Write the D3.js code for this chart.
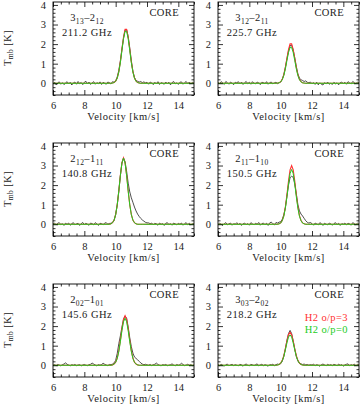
<!DOCTYPE html>
<html>
<head>
<meta charset="utf-8">
<script src="https://cdn.jsdelivr.net/npm/d3@7"></script>
<style>
body { margin: 0; background: #fff; }
svg { display: block; font-family: "Liberation Serif", "Times New Roman", serif; }
</style>
</head>
<body>
<svg id="chart" width="360" height="404"></svg>
<script>
// transitions: [J_up, Ka Kc up, J_low, Ka Kc low]
const transitions = [
	['3', '13', '2', '12'],
	['3', '12', '2', '11'],
	['2', '12', '1', '11'],
	['2', '11', '1', '10'],
	['2', '02', '1', '01'],
	['3', '03', '2', '02'],
]
const freqs = ['211.2 GHz', '225.7 GHz', '140.8 GHz', '150.5 GHz', '145.6 GHz', '218.2 GHz']

// observed channels, 6.0 .. 15.0 km/s every 0.1
const obsV = d3.range(91).map(i => 6 + i * 0.1)
const obs1 = [-0.04, 0.06, -0.08, 0.02, 0.07, -0.05, 0.03, -0.07, 0.01, 0.08, -0.03, 0.05, -0.09, 0.02, 0.06, -0.05, 0.09, -0.02, 0.04, -0.07, 0.05, 0.10, -0.03, 0.06, -0.06, 0.02, 0.08, -0.05, 0.03, -0.02, 0.07, -0.06, 0.05, 0.00, -0.05, 0.06, 0.03, -0.04, 0.08, 0.05,
	0.12, 0.32, 0.65, 1.15, 1.75, 2.30, 2.72, 2.74, 2.38, 1.80, 1.15, 0.62, 0.30, 0.14, 0.10, 0.06, 0.09, 0.03, 0.07, 0.02, 0.05,
	-0.05, 0.06, 0.02, -0.07, 0.05, -0.03, 0.08, -0.06, 0.03, 0.00, -0.05, 0.06, -0.02, 0.05, -0.08, 0.03, 0.09, -0.03, 0.02, -0.06, 0.05, 0.07, -0.05, 0.03, 0.09, -0.02, 0.06, -0.04, 0.05, 0.00]
const obs2 = [0.05, -0.03, 0.08, 0.02, -0.06, 0.09, 0.03, -0.05, 0.06, 0.00, -0.07, 0.05, 0.02, 0.08, -0.03, 0.06, -0.06, 0.03, 0.09, -0.02, 0.05, -0.05, 0.08, 0.00, -0.03, 0.06, 0.02, -0.07, 0.05, 0.03, -0.02, 0.08, -0.05, 0.03, 0.06, -0.03, 0.02, 0.05, -0.02, 0.03,
	0.06, 0.20, 0.45, 0.82, 1.25, 1.65, 1.92, 1.94, 1.70, 1.30, 0.85, 0.48, 0.26, 0.18, 0.14, 0.09, 0.12, 0.05, 0.03, 0.06, -0.02,
	0.03, -0.06, 0.05, -0.08, 0.02, -0.05, -0.09, 0.03, -0.03, 0.06, -0.05, 0.00, -0.06, 0.05, -0.03, 0.02, -0.08, 0.03, 0.06, -0.02, 0.05, -0.05, 0.08, 0.02, -0.03, 0.09, 0.03, -0.02, 0.06, 0.02]
const obs3 = [0.02, 0.06, -0.03, 0.05, 0.08, -0.02, 0.03, -0.06, 0.05, 0.00, 0.06, -0.05, 0.03, 0.08, -0.03, 0.02, 0.05, -0.06, 0.03, 0.09, -0.02, 0.05, 0.00, -0.05, 0.06, 0.03, -0.03, 0.08, 0.02, -0.06, 0.05, 0.03, -0.02, 0.06, 0.08, 0.00, 0.04, 0.05, 0.09, 0.20,
	0.50, 0.98, 1.68, 2.48, 3.12, 3.38, 3.20, 2.70, 2.10, 1.65, 1.35, 1.12, 0.88, 0.68, 0.52, 0.40, 0.30, 0.22, 0.16, 0.10, 0.07,
	0.07, 0.03, 0.06, -0.03, 0.05, 0.02, -0.05, 0.06, 0.00, 0.03, -0.06, 0.05, 0.08, -0.02, 0.03, -0.05, 0.06, 0.02, -0.03, 0.05, 0.00, 0.06, -0.05, 0.03, 0.08, -0.02, 0.05, -0.03, 0.02, 0.03]
const obs4 = [-0.02, 0.05, 0.00, -0.06, 0.03, 0.08, -0.03, 0.02, 0.06, -0.05, 0.03, 0.00, 0.08, -0.03, 0.05, -0.06, 0.02, 0.06, -0.02, 0.03, -0.05, 0.08, 0.02, -0.03, 0.05, 0.00, 0.09, -0.05, 0.03, 0.06, -0.02, 0.05, -0.06, 0.07, 0.11, 0.03, -0.03, 0.09, 0.06, 0.11,
	0.12, 0.25, 0.48, 0.85, 1.42, 2.00, 2.38, 2.45, 2.40, 2.05, 1.55, 1.00, 0.68, 0.52, 0.42, 0.30, 0.18, 0.10, 0.06, 0.09, 0.03,
	-0.05, 0.06, 0.02, -0.03, 0.08, 0.03, -0.06, 0.05, 0.00, -0.03, 0.06, 0.02, -0.05, 0.03, 0.08, -0.02, 0.05, -0.06, 0.03, 0.00, 0.06, -0.03, 0.05, 0.02, -0.05, 0.08, 0.03, -0.02, 0.05, 0.00]
const obs5 = [0.00, 0.03, -0.02, 0.04, 0.01, -0.03, 0.03, 0.06, 0.12, 0.05, 0.01, -0.03, 0.03, 0.00, 0.04, -0.02, 0.01, 0.03, -0.03, 0.01, 0.04, 0.00, -0.02, 0.03, 0.05, 0.11, 0.06, 0.01, -0.03, 0.03, 0.00, 0.04, 0.10, 0.05, 0.01, -0.02, 0.04, 0.03, 0.06, 0.12,
	0.25, 0.60, 1.10, 1.50, 1.95, 2.35, 2.52, 2.40, 1.95, 1.40, 0.95, 0.62, 0.42, 0.35, 0.28, 0.20, 0.12, 0.06, 0.03, 0.05, 0.02,
	0.00, 0.04, -0.02, 0.03, 0.05, 0.11, 0.04, 0.00, -0.03, 0.03, 0.01, 0.04, -0.02, 0.00, 0.03, 0.07, 0.01, -0.03, 0.04, 0.00, 0.03, 0.10, 0.04, -0.02, 0.01, 0.05, 0.00, 0.03, -0.02, 0.01]
const obs6 = [0.03, -0.02, 0.05, 0.00, -0.05, 0.03, 0.06, -0.03, 0.02, 0.05, -0.02, 0.03, 0.00, -0.03, 0.05, 0.02, -0.05, 0.03, 0.06, 0.00, -0.03, 0.05, 0.02, -0.02, 0.03, 0.07, -0.03, 0.02, 0.05, -0.02, 0.03, 0.00, -0.05, 0.03, 0.02, 0.05, -0.02, 0.03, 0.06, 0.04,
	0.08, 0.20, 0.45, 0.85, 1.28, 1.62, 1.78, 1.62, 1.25, 0.82, 0.45, 0.22, 0.10, 0.07, 0.04, 0.06, 0.02, 0.04, 0.00, 0.03, 0.01,
	0.05, -0.02, 0.03, 0.00, -0.05, 0.03, 0.06, 0.02, -0.03, 0.05, 0.00, 0.03, -0.02, 0.05, 0.02, -0.03, 0.06, 0.00, 0.03, -0.05, 0.02, 0.05, 0.07, -0.02, 0.03, 0.00, 0.06, -0.03, 0.05, 0.02]

// model velocities
const modV = [6.0, 9.6, 9.7, 9.8, 9.9, 10.0, 10.1, 10.2, 10.3, 10.4, 10.5, 10.6, 10.7, 10.8, 10.9, 11.0, 11.1, 11.2, 11.3, 11.4, 11.5, 11.6, 11.7, 11.8, 15.0]
// H2 o/p=3 (red)
const red1 = [0, 0, 0, 0.01, 0.04, 0.11, 0.27, 0.59, 1.09, 1.73, 2.35, 2.75, 2.75, 2.35, 1.73, 1.09, 0.59, 0.27, 0.11, 0.04, 0.01, 0, 0, 0, 0]
const red2 = [0, 0, 0, 0.01, 0.03, 0.08, 0.20, 0.43, 0.80, 1.27, 1.72, 2.01, 2.01, 1.72, 1.27, 0.80, 0.43, 0.20, 0.08, 0.03, 0.01, 0, 0, 0, 0]
const red3 = [0, 0, 0.02, 0.08, 0.21, 0.50, 0.99, 1.70, 2.50, 3.15, 3.40, 3.15, 2.50, 1.70, 0.99, 0.50, 0.21, 0.08, 0.02, 0, 0, 0, 0, 0, 0]
const red4 = [0, 0, 0, 0, 0.02, 0.07, 0.19, 0.44, 0.88, 1.50, 2.21, 2.78, 3.00, 2.78, 2.21, 1.50, 0.88, 0.44, 0.19, 0.07, 0.02, 0, 0, 0, 0]
const red5 = [0, 0, 0, 0.02, 0.06, 0.16, 0.37, 0.74, 1.27, 1.86, 2.34, 2.53, 2.34, 1.86, 1.27, 0.74, 0.37, 0.16, 0.06, 0.02, 0, 0, 0, 0, 0]
const red6 = [0, 0, 0, 0.01, 0.04, 0.11, 0.25, 0.49, 0.84, 1.23, 1.56, 1.68, 1.56, 1.23, 0.84, 0.49, 0.25, 0.11, 0.04, 0.01, 0, 0, 0, 0, 0]
// H2 o/p=0 (green)
const grn1 = [0, 0, 0, 0.01, 0.04, 0.10, 0.26, 0.57, 1.05, 1.67, 2.27, 2.65, 2.65, 2.27, 1.67, 1.05, 0.57, 0.26, 0.10, 0.04, 0.01, 0, 0, 0, 0]
const grn2 = [0, 0, 0, 0.01, 0.02, 0.07, 0.18, 0.39, 0.73, 1.16, 1.57, 1.83, 1.83, 1.57, 1.16, 0.73, 0.39, 0.18, 0.07, 0.02, 0.01, 0, 0, 0, 0]
const grn3 = [0, 0, 0.02, 0.08, 0.21, 0.49, 0.99, 1.69, 2.48, 3.13, 3.38, 3.13, 2.48, 1.69, 0.99, 0.49, 0.21, 0.08, 0.02, 0, 0, 0, 0, 0, 0]
const grn4 = [0, 0, 0, 0, 0.02, 0.06, 0.18, 0.41, 0.82, 1.40, 2.06, 2.59, 2.80, 2.59, 2.06, 1.40, 0.82, 0.41, 0.18, 0.06, 0.02, 0, 0, 0, 0]
const grn5 = [0, 0, 0, 0.02, 0.06, 0.15, 0.35, 0.70, 1.20, 1.76, 2.22, 2.40, 2.22, 1.76, 1.20, 0.70, 0.35, 0.15, 0.06, 0.02, 0, 0, 0, 0, 0]
const grn6 = [0, 0, 0, 0.01, 0.04, 0.10, 0.23, 0.45, 0.78, 1.14, 1.44, 1.55, 1.44, 1.14, 0.78, 0.45, 0.23, 0.10, 0.04, 0.01, 0, 0, 0, 0, 0]

const xMajor = [6, 8, 10, 12, 14]
const xMinor = d3.range(6, 15.01, 0.5).filter(v => v % 2 !== 0)
const yMajor = [0, 1, 2, 3, 4]
const yMinor = d3.range(-0.6, 4.15, 0.2).map(v => +v.toFixed(1)).filter(v => v % 1 !== 0)
const legend = [['H2 o/p=3', '#ff3030'], ['H2 o/p=0', '#22cc22']]

const panels = transitions.map((t, i) => ({
	t, freq: freqs[i],
	obs: [obs1, obs2, obs3, obs4, obs5, obs6][i],
	red: [red1, red2, red3, red4, red5, red6][i],
	grn: [grn1, grn2, grn3, grn4, grn5, grn6][i],
}))

const svg = d3.select('#chart')
const colX = [53, 218]
const rowY = [2, 143, 284]
const w = 141
const h = 93
const fs = 10.5

panels.forEach((p, i) => {
	const col = i % 2
	const row = Math.floor(i / 2)
	const x0 = colX[col]
	const y0 = rowY[row]
	const x = d3.scaleLinear().domain([6, 15]).range([x0, x0 + w])
	const y = d3.scaleLinear().domain([-0.6, 4.15]).range([y0 + h, y0])

	const g = svg.append('g')
	const clipId = 'clip' + i
	g.append('clipPath').attr('id', clipId)
		.append('rect').attr('x', x0).attr('y', y0).attr('width', w).attr('height', h)

	const line = d3.line().x(d => x(d[0])).y(d => y(d[1]))
	const lines = g.append('g').attr('clip-path', `url(#${clipId})`)
	lines.append('path')
		.attr('d', line(obsV.map((v, k) => [v, p.obs[k]])))
		.attr('fill', 'none').attr('stroke', '#222').attr('stroke-width', 0.8)
	lines.append('path')
		.attr('d', line(modV.map((v, k) => [v, p.red[k]])))
		.attr('fill', 'none').attr('stroke', '#ff3030').attr('stroke-width', 1.1)
	lines.append('path')
		.attr('d', line(modV.map((v, k) => [v, p.grn[k]])))
		.attr('fill', 'none').attr('stroke', '#22cc22').attr('stroke-width', 1)

	// ticks on all four sides, pointing inward
	const axes = [
		[d3.axisBottom(x), y0 + h, 'x'], [d3.axisTop(x), y0, 'x'],
		[d3.axisLeft(y), x0, 'y'], [d3.axisRight(y), x0 + w, 'y'],
	]
	axes.forEach(([ax, pos, dir], k) => {
		const major = dir === 'x' ? xMajor : yMajor
		const minor = dir === 'x' ? xMinor : yMinor
		const tr = dir === 'x' ? `translate(0,${pos})` : `translate(${pos},0)`
		const labelled = k === 0 || k === 2
		const ga = g.append('g').attr('transform', tr)
			.call(ax.tickValues(major).tickSizeInner(-5).tickSizeOuter(0)
				.tickPadding(dir === 'x' ? 6.5 : 7)
				.tickFormat(labelled ? d3.format('d') : ''))
		ga.select('.domain').remove()
		ga.attr('font-family', null).attr('font-size', fs)
		ga.selectAll('line').attr('stroke', '#000').attr('stroke-width', 0.8)
		ga.selectAll('text').attr('fill', '#222')
		const gm = g.append('g').attr('transform', tr)
			.call(ax.tickValues(minor).tickSizeInner(-2.5).tickFormat(''))
		gm.select('.domain').remove()
		gm.selectAll('line').attr('stroke', '#000').attr('stroke-width', 0.8)
	})

	g.append('rect').attr('x', x0).attr('y', y0).attr('width', w).attr('height', h)
		.attr('fill', 'none').attr('stroke', '#000').attr('stroke-width', 0.9)

	g.append('text').attr('x', x0 + w / 2).attr('y', y0 + h + 24.5)
		.attr('text-anchor', 'middle').attr('font-size', fs).attr('fill', '#222')
		.attr('letter-spacing', 0.5)
		.text('Velocity [km/s]')

	if (col === 0) {
		const yt = g.append('text')
			.attr('transform', `translate(11,${y0 + 46}) rotate(-90)`)
			.attr('text-anchor', 'middle').attr('font-size', fs).attr('fill', '#222')
			.attr('letter-spacing', 0.4)
		yt.append('tspan').text('T')
		yt.append('tspan').attr('font-size', 7.5).attr('dy', 2).text('mb')
		yt.append('tspan').attr('dy', -2).text(' [K]')
	}

	g.append('text').attr('x', x0 + w - 15).attr('y', y0 + 14)
		.attr('text-anchor', 'end').attr('font-size', fs).attr('fill', '#222')
		.attr('letter-spacing', 0.4)
		.text('CORE')

	const tl = g.append('text').attr('x', x0 + 34).attr('y', y0 + 19)
		.attr('text-anchor', 'middle').attr('font-size', fs).attr('fill', '#222')
		.attr('letter-spacing', 0.4)
	tl.append('tspan').text(p.t[0])
	tl.append('tspan').attr('font-size', 7.5).attr('dy', 2.5).text(p.t[1])
	tl.append('tspan').attr('dy', -2.5).text('\u2013' + p.t[2])
	tl.append('tspan').attr('font-size', 7.5).attr('dy', 2.5).text(p.t[3])
	g.append('text').attr('x', x0 + 34).attr('y', y0 + 34)
		.attr('text-anchor', 'middle').attr('font-size', fs).attr('fill', '#222')
		.attr('letter-spacing', 0.5)
		.text(p.freq)

	if (i === panels.length - 1) {
		legend.forEach(([label, color], k) => {
			g.append('text').attr('x', x0 + w - 11).attr('y', y0 + 37 + k * 12)
				.attr('text-anchor', 'end').attr('font-size', fs).attr('fill', color)
				.attr('letter-spacing', 0.4)
				.text(label)
		})
	}
})
</script>
</body>
</html>
